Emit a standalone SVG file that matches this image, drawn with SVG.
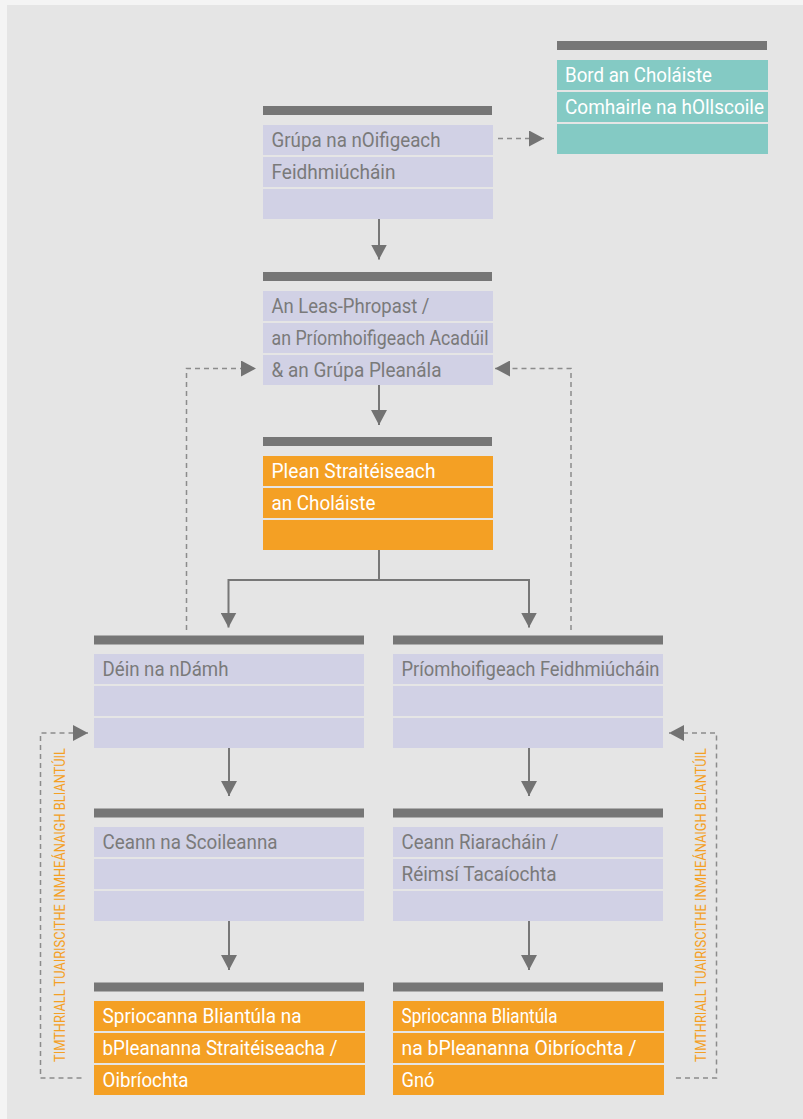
<svg xmlns="http://www.w3.org/2000/svg" width="803" height="1119" viewBox="0 0 803 1119">
<defs>
<style>
.bg{fill:#e5e5e5}
.bar{fill:#767676}
.lav{fill:#d1d1e5}
.org{fill:#f4a024}
.teal{fill:#84cac4}
.t{font-family:Roboto,"Liberation Sans",sans-serif;font-size:21px}
.tg{fill:#7a7a7a}
.tw{fill:#ffffff}
.v{font-family:Roboto,"Liberation Sans",sans-serif;font-size:15.5px;fill:#f4a024}
.solid{stroke:#777777;stroke-width:2;fill:none}
.dash{stroke:#8c8c8c;stroke-width:1.5;fill:none;stroke-dasharray:5 4}
</style>
<marker id="ah" markerUnits="userSpaceOnUse" viewBox="0 0 15 16" refX="15" refY="8" markerWidth="15" markerHeight="16" orient="auto">
<path d="M0,0 L15,8 L0,16 z" fill="#737373"/>
</marker>
</defs>
<rect x="0" y="0" width="803" height="1119" fill="#f4f4f4"/>
<rect class="bg" x="7" y="5" width="796" height="1114"/>

<g id="board">
<rect class="bar" x="557" y="41" width="210" height="9"/>
<rect class="teal" x="557" y="60" width="211" height="30"/>
<rect class="teal" x="557" y="92" width="211" height="30"/>
<rect class="teal" x="557" y="124" width="211" height="30"/>
<text class="t tw" x="565" y="82" textLength="147" lengthAdjust="spacingAndGlyphs">Bord an Choláiste</text>
<text class="t tw" x="565" y="114" textLength="199" lengthAdjust="spacingAndGlyphs">Comhairle na hOllscoile</text>
</g>

<g id="exec-group">
<rect class="bar" x="263" y="106" width="229" height="9"/>
<rect class="lav" x="263" y="125" width="230" height="30"/>
<rect class="lav" x="263" y="157" width="230" height="30"/>
<rect class="lav" x="263" y="189" width="230" height="30"/>
<text class="t tg" x="271.5" y="147" textLength="169" lengthAdjust="spacingAndGlyphs">Grúpa na nOifigeach</text>
<text class="t tg" x="271.5" y="179" textLength="124" lengthAdjust="spacingAndGlyphs">Feidhmiúcháin</text>
</g>

<g id="deputy">
<rect class="bar" x="263" y="272" width="229" height="9"/>
<rect class="lav" x="263" y="291" width="230" height="30"/>
<rect class="lav" x="263" y="323" width="230" height="30"/>
<rect class="lav" x="263" y="355" width="230" height="30"/>
<text class="t tg" x="271.5" y="313" textLength="158" lengthAdjust="spacingAndGlyphs">An Leas-Phropast /</text>
<text class="t tg" x="271.5" y="345" textLength="217" lengthAdjust="spacingAndGlyphs">an Príomhoifigeach Acadúil</text>
<text class="t tg" x="271.5" y="377" textLength="170" lengthAdjust="spacingAndGlyphs">&amp; an Grúpa Pleanála</text>
</g>

<g id="strategic-plan">
<rect class="bar" x="263" y="437" width="229" height="9"/>
<rect class="org" x="263" y="456" width="230" height="30"/>
<rect class="org" x="263" y="488" width="230" height="30"/>
<rect class="org" x="263" y="520" width="230" height="30"/>
<text class="t tw" x="271.5" y="478" textLength="164" lengthAdjust="spacingAndGlyphs">Plean Straitéiseach</text>
<text class="t tw" x="271.5" y="510" textLength="104" lengthAdjust="spacingAndGlyphs">an Choláiste</text>
</g>

<g id="deans">
<rect class="bar" x="94" y="635.5" width="270" height="9"/>
<rect class="lav" x="94" y="654" width="270" height="30"/>
<rect class="lav" x="94" y="686" width="270" height="30"/>
<rect class="lav" x="94" y="718" width="270" height="30"/>
<text class="t tg" x="102.5" y="676" textLength="126" lengthAdjust="spacingAndGlyphs">Déin na nDámh</text>
</g>

<g id="coo">
<rect class="bar" x="393" y="635.5" width="270" height="9"/>
<rect class="lav" x="393" y="654" width="270" height="30"/>
<rect class="lav" x="393" y="686" width="270" height="30"/>
<rect class="lav" x="393" y="718" width="270" height="30"/>
<text class="t tg" x="401.5" y="676" textLength="258" lengthAdjust="spacingAndGlyphs">Príomhoifigeach Feidhmiúcháin</text>
</g>

<g id="heads-of-schools">
<rect class="bar" x="94" y="808.5" width="270" height="9"/>
<rect class="lav" x="94" y="827" width="270" height="30"/>
<rect class="lav" x="94" y="859" width="270" height="30"/>
<rect class="lav" x="94" y="891" width="270" height="30"/>
<text class="t tg" x="102.5" y="849" textLength="175" lengthAdjust="spacingAndGlyphs">Ceann na Scoileanna</text>
</g>

<g id="heads-admin">
<rect class="bar" x="393" y="808.5" width="270" height="9"/>
<rect class="lav" x="393" y="827" width="270" height="30"/>
<rect class="lav" x="393" y="859" width="270" height="30"/>
<rect class="lav" x="393" y="891" width="270" height="30"/>
<text class="t tg" x="401.5" y="849" textLength="157" lengthAdjust="spacingAndGlyphs">Ceann Riaracháin /</text>
<text class="t tg" x="401.5" y="881" textLength="155" lengthAdjust="spacingAndGlyphs">Réimsí Tacaíochta</text>
</g>

<g id="targets-academic">
<rect class="bar" x="94" y="982.5" width="270" height="9"/>
<rect class="org" x="94" y="1001" width="271" height="30"/>
<rect class="org" x="94" y="1033" width="271" height="30"/>
<rect class="org" x="94" y="1065" width="271" height="30"/>
<text class="t tw" x="102.5" y="1023" textLength="199" lengthAdjust="spacingAndGlyphs">Spriocanna Bliantúla na</text>
<text class="t tw" x="102.5" y="1055" textLength="235" lengthAdjust="spacingAndGlyphs">bPleananna Straitéiseacha /</text>
<text class="t tw" x="102.5" y="1087" textLength="86" lengthAdjust="spacingAndGlyphs">Oibríochta</text>
</g>

<g id="targets-operational">
<rect class="bar" x="393" y="982.5" width="270" height="9"/>
<rect class="org" x="393" y="1001" width="271" height="30"/>
<rect class="org" x="393" y="1033" width="271" height="30"/>
<rect class="org" x="393" y="1065" width="271" height="30"/>
<text class="t tw" x="401.5" y="1023" textLength="156" lengthAdjust="spacingAndGlyphs">Spriocanna Bliantúla</text>
<text class="t tw" x="401.5" y="1055" textLength="235" lengthAdjust="spacingAndGlyphs">na bPleananna Oibríochta /</text>
<text class="t tw" x="401.5" y="1087" textLength="33" lengthAdjust="spacingAndGlyphs">Gnó</text>
</g>

<g id="cycle-labels">
<text class="v" x="65" y="1062" transform="rotate(-90 65 1062)" textLength="314" lengthAdjust="spacingAndGlyphs">TIMTHRIALL TUAIRISCITHE INMHEÁNAIGH BLIANTÚIL</text>
<text class="v" x="705.5" y="1062" transform="rotate(-90 705.5 1062)" textLength="314" lengthAdjust="spacingAndGlyphs">TIMTHRIALL TUAIRISCITHE INMHEÁNAIGH BLIANTÚIL</text>
</g>

<g id="connectors">
<path class="solid" d="M379,219 V259.5" marker-end="url(#ah)"/>
<path class="solid" d="M379,385 V425" marker-end="url(#ah)"/>
<path class="solid" d="M379,550 V580 M379,580 H228.5 V627.5" marker-end="url(#ah)"/>
<path class="solid" d="M379,580 H529 V627.5" marker-end="url(#ah)"/>
<path class="solid" d="M229,748 V796" marker-end="url(#ah)"/>
<path class="solid" d="M529,748 V796" marker-end="url(#ah)"/>
<path class="solid" d="M229,921 V970" marker-end="url(#ah)"/>
<path class="solid" d="M529,921 V970" marker-end="url(#ah)"/>
<path class="dash" d="M498,138.5 H544" marker-end="url(#ah)"/>
<path class="dash" d="M186.5,630 V368.5 H256" marker-end="url(#ah)"/>
<path class="dash" d="M571,630 V368.5 H495" marker-end="url(#ah)"/>
<path class="dash" d="M81.5,1078 H40.5 V733 H88" marker-end="url(#ah)"/>
<path class="dash" d="M676,1078 H716.5 V733 H669" marker-end="url(#ah)"/>
</g>
</svg>
